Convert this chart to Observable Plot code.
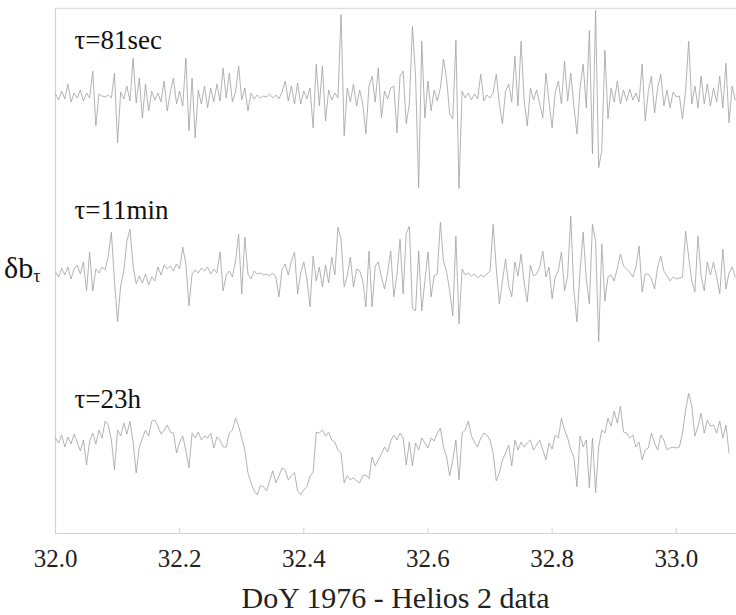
<!DOCTYPE html>
<html><head><meta charset="utf-8">
<script src="https://cdn.jsdelivr.net/npm/d3@7"></script>
<script src="https://cdn.jsdelivr.net/npm/@observablehq/plot@0.6"></script>
<style>
body{margin:0;background:#fff;}
#wrap{position:relative;width:736px;height:615px;font-family:'Liberation Serif','Times New Roman',serif;color:#222;}
#chart svg{display:block;}
#ylab{position:absolute;left:4px;top:253px;font-size:30px;line-height:30px;color:#111;}
#ylab span{font-size:18px;position:relative;top:4px;}
#cap{width:681px;margin-left:55px;text-align:center;font-size:30px;line-height:30px;}
</style></head><body>
<div id="wrap"><div id="chart"></div><div id="ylab">δb<span>τ</span></div><div id="cap">DoY 1976 - Helios 2 data</div></div>
<script>
const seriesNames = ["τ=81sec", "τ=11min", "τ=23h"];
const xTicks = [32.0, 32.2, 32.4, 32.6, 32.8, 33.0];
const t0 = 32.0, dt = 0.005; // sampling of the time axis (day of year)

const s81 = [2,-4,5,-3,12,-6,3,-2,6,-5,
3,-2,25,-30,2,0,-1,1,-2,23,
-47,4,-3,10,-5,38,-7,18,-22,12,
-15,5,-4,3,-6,15,-15,4,18,-8,
5,-10,38,-35,18,-42,6,-8,10,-12,
8,-6,12,-5,28,-2,23,-6,4,30,
-4,8,-15,3,-3,1,-2,0,-1,2,
-2,1,-3,4,15,-5,10,-8,13,-8,
5,-3,8,-32,32,-10,30,-25,6,-4,
3,-2,82,-40,8,-6,12,-10,6,-8,
-38,10,20,-6,28,-22,5,-3,8,10,
-37,20,25,-28,-8,70,20,-92,55,-22,
15,-15,6,-5,8,37,17,-18,-23,56,
-93,5,-2,3,-4,2,-3,22,-5,1,
-2,3,22,-8,-28,5,12,-6,40,-10,
55,-5,-30,8,-4,6,-8,-22,23,-6,
-32,4,15,-8,35,-5,23,-10,-38,8,
32,-12,66,-58,86,-72,-55,46,-23,8,
-6,15,-8,6,-5,7,-4,3,-6,32,
-25,5,20,-17,8,22,-10,6,-12,4,
-1,0,-23,5,55,-8,10,-12,20,-8,
12,-10,8,-6,20,-12,33,-27,10,-4];

const s11 = [-1,-6,3,-4,4,-8,2,6,-3,9,
-20,19,-20,2,-2,4,1,15,39,-10,
-51,-15,0,30,42,5,-13,-5,-12,-3,
-14,-6,-10,4,-4,6,2,5,0,7,
2,24,7,-35,-3,1,-2,3,0,4,
-3,2,-2,19,-20,-4,0,-6,10,37,
-23,34,-3,-8,0,-3,-2,-4,-3,-5,
-2,-6,-26,2,7,-4,10,19,-23,-2,
9,-8,-36,15,-10,4,-16,6,-12,14,
-4,44,32,-16,-5,14,-16,2,0,-10,
-36,20,-36,5,9,-6,-18,-2,20,-26,
-4,32,-23,38,45,-38,-40,20,-40,-10,
19,-26,-5,-3,49,10,-1,-20,-45,35,
-53,2,-4,-2,-5,-3,-7,-4,-6,-3,
0,47,3,-33,-10,12,-15,-26,9,-5,
17,-12,-31,6,-5,-3,4,20,-6,4,
-28,-6,0,19,-20,-5,55,-20,-51,0,
39,-8,-33,47,30,-71,27,-30,-6,-4,
-10,3,17,5,2,-1,-6,4,25,-21,
-3,-3,-8,-18,4,15,0,-5,-10,-6,
-8,-7,-6,40,14,-10,-21,35,-5,-20,
9,-4,9,-6,-23,22,-18,-2,4,-6];

const s23 = [8,3,11,-1,9,2,12,4,-5,6,
-19,5,13,2,16,8,25,21,6,-24,
16,10,23,12,25,4,-27,-1,8,16,
10,25,26,20,12,16,21,14,13,-7,
4,10,-5,-22,13,8,14,6,10,8,
13,-2,9,6,-1,-1,13,16,28,20,
8,-4,-27,-37,-45,-49,-40,-41,-45,-35,
-25,-37,-30,-22,-24,-34,-30,-27,-45,-49,
-44,-41,-30,-27,14,13,16,10,14,6,
4,-4,-7,-37,-30,-34,-32,-35,-37,-30,
-29,-33,-11,-20,-14,-8,-1,-6,5,11,
6,13,8,-19,4,-20,3,-4,8,3,
-2,8,5,13,18,-1,-11,-30,-14,6,
-34,13,16,25,10,4,-1,8,13,11,
6,-7,-35,-27,-14,-7,1,-20,6,-4,
4,-1,3,6,-4,1,6,-4,-14,3,
-3,11,8,28,16,8,-4,-11,-41,10,
-1,6,-42,8,-47,-1,16,13,28,20,
35,23,40,14,13,8,11,-1,4,-14,
-4,-2,13,3,-4,11,6,-4,-2,-1,
-2,-1,13,36,53,40,10,20,33,13,
26,20,21,13,25,8,21,-7];

const rows = [];
[s81, s11, s23].forEach((vals, k) =>
  vals.forEach((v, i) => rows.push({t: t0 + i * dt, v, s: seriesNames[k]})));

const labelDy = [21, 16, 30.5];
const gridStroke = "#d2d2d2";

const chart = Plot.plot({
  width: 736, height: 583,
  marginTop: 7, marginRight: 0, marginBottom: 49, marginLeft: 55,
  style: {fontFamily: "'Liberation Serif','Times New Roman',serif", fontSize: "25px", background: "white", color: "#222"},
  x: {domain: [32, 33.097]},
  y: {domain: [-88, 88], axis: null},
  fy: {domain: seriesNames, axis: null, padding: 0},
  marks: [
    Plot.ruleX([32], {stroke: gridStroke, strokeWidth: 1.2}),
    Plot.ruleY([{s: seriesNames[0], y: 88}], {y: "y", fy: "s", stroke: "#e0e0e0", strokeWidth: 1.5}),
    Plot.ruleY([{s: seriesNames[2], y: -88}], {y: "y", fy: "s", stroke: gridStroke, strokeWidth: 1.2}),
    Plot.line(rows, {x: "t", y: "v", fy: "s", stroke: "#a0a0a0", strokeWidth: 0.8}),
    ...seriesNames.map((n, k) => Plot.text([{s: n}], {fy: "s", text: "s", frameAnchor: "top-left", textAnchor: "start", dx: 19, dy: labelDy[k], fontSize: 27, fill: "#111"})),
    Plot.axisX(xTicks, {tickFormat: d3.format(".1f"), tickSize: 0, tickPadding: 16, fontSize: 25, label: null}),
    Plot.axisX(xTicks, {tickSize: 5, dy: -5, tickFormat: () => "", stroke: gridStroke, label: null})
  ]
});
document.getElementById("chart").appendChild(chart);
</script>
</body></html>
